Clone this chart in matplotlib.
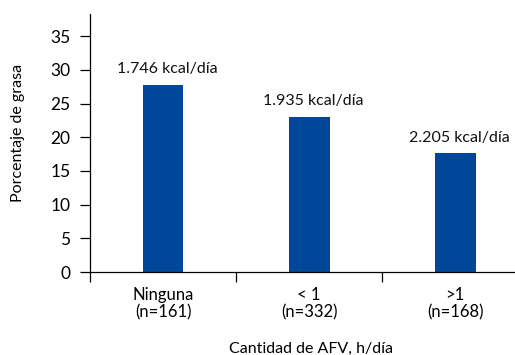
import numpy as np
from matplotlib import pyplot as plt

categories = ['Ninguna\n(n=161)', '< 1\n(n=332)', '>1\n(n=168)']
fat_pct = [27.8, 23.0, 17.6]
kcal_labels = ['1.746 kcal/día', '1.935 kcal/día', '2.205 kcal/día']
y_ticks = [0, 5, 10, 15, 20, 25, 30, 35]
boundaries = [-0.5, 0.5, 1.5]

plt.rcParams['font.family'] = ['Lato', 'DejaVu Sans']
blue = '#00479a'


def main():
    fig = plt.figure(figsize=(5.15, 3.55), dpi=100)
    ax = fig.add_axes([0.1748, 0.2338, 0.8252, 0.7268])

    x = np.arange(len(categories))
    ax.bar(x, fat_pct, width=0.28, color=blue, zorder=2)
    for xi, h, lab in zip(x, fat_pct, kcal_labels):
        ax.text(xi + 0.03, h + 1.3, lab, ha='center', va='bottom', fontsize=11.5, color='#111111')

    ax.set_xlim(-0.5, 2.41)
    ax.set_ylim(0, 38.3)

    ax.set_yticks(y_ticks)
    ax.tick_params(axis='y', length=7, width=0.9, pad=7, labelsize=12.5)

    # ticks sit on the category boundaries, labels under the bars
    ax.set_xticks(boundaries)
    ax.set_xticklabels([])
    ax.tick_params(axis='x', which='major', length=7, width=0.9)
    ax.set_xticks(x, minor=True)
    ax.set_xticklabels(categories, minor=True, fontsize=12, linespacing=1.1)
    ax.tick_params(axis='x', which='minor', length=0, pad=11)

    for side in ['top', 'right']:
        ax.spines[side].set_visible(False)
    ax.spines['left'].set_linewidth(0.9)
    ax.spines['bottom'].set_linewidth(0.9)

    ax.set_ylabel('Porcentaje de grasa', fontsize=11.5)
    ax.yaxis.set_label_coords(-0.152, 0.54)
    ax.set_xlabel('Cantidad de AFV, h/día', fontsize=11.5)
    ax.xaxis.set_label_coords(0.52, -0.27)

    fig.savefig('out.png', dpi=100)


if __name__ == "__main__":
    main()
